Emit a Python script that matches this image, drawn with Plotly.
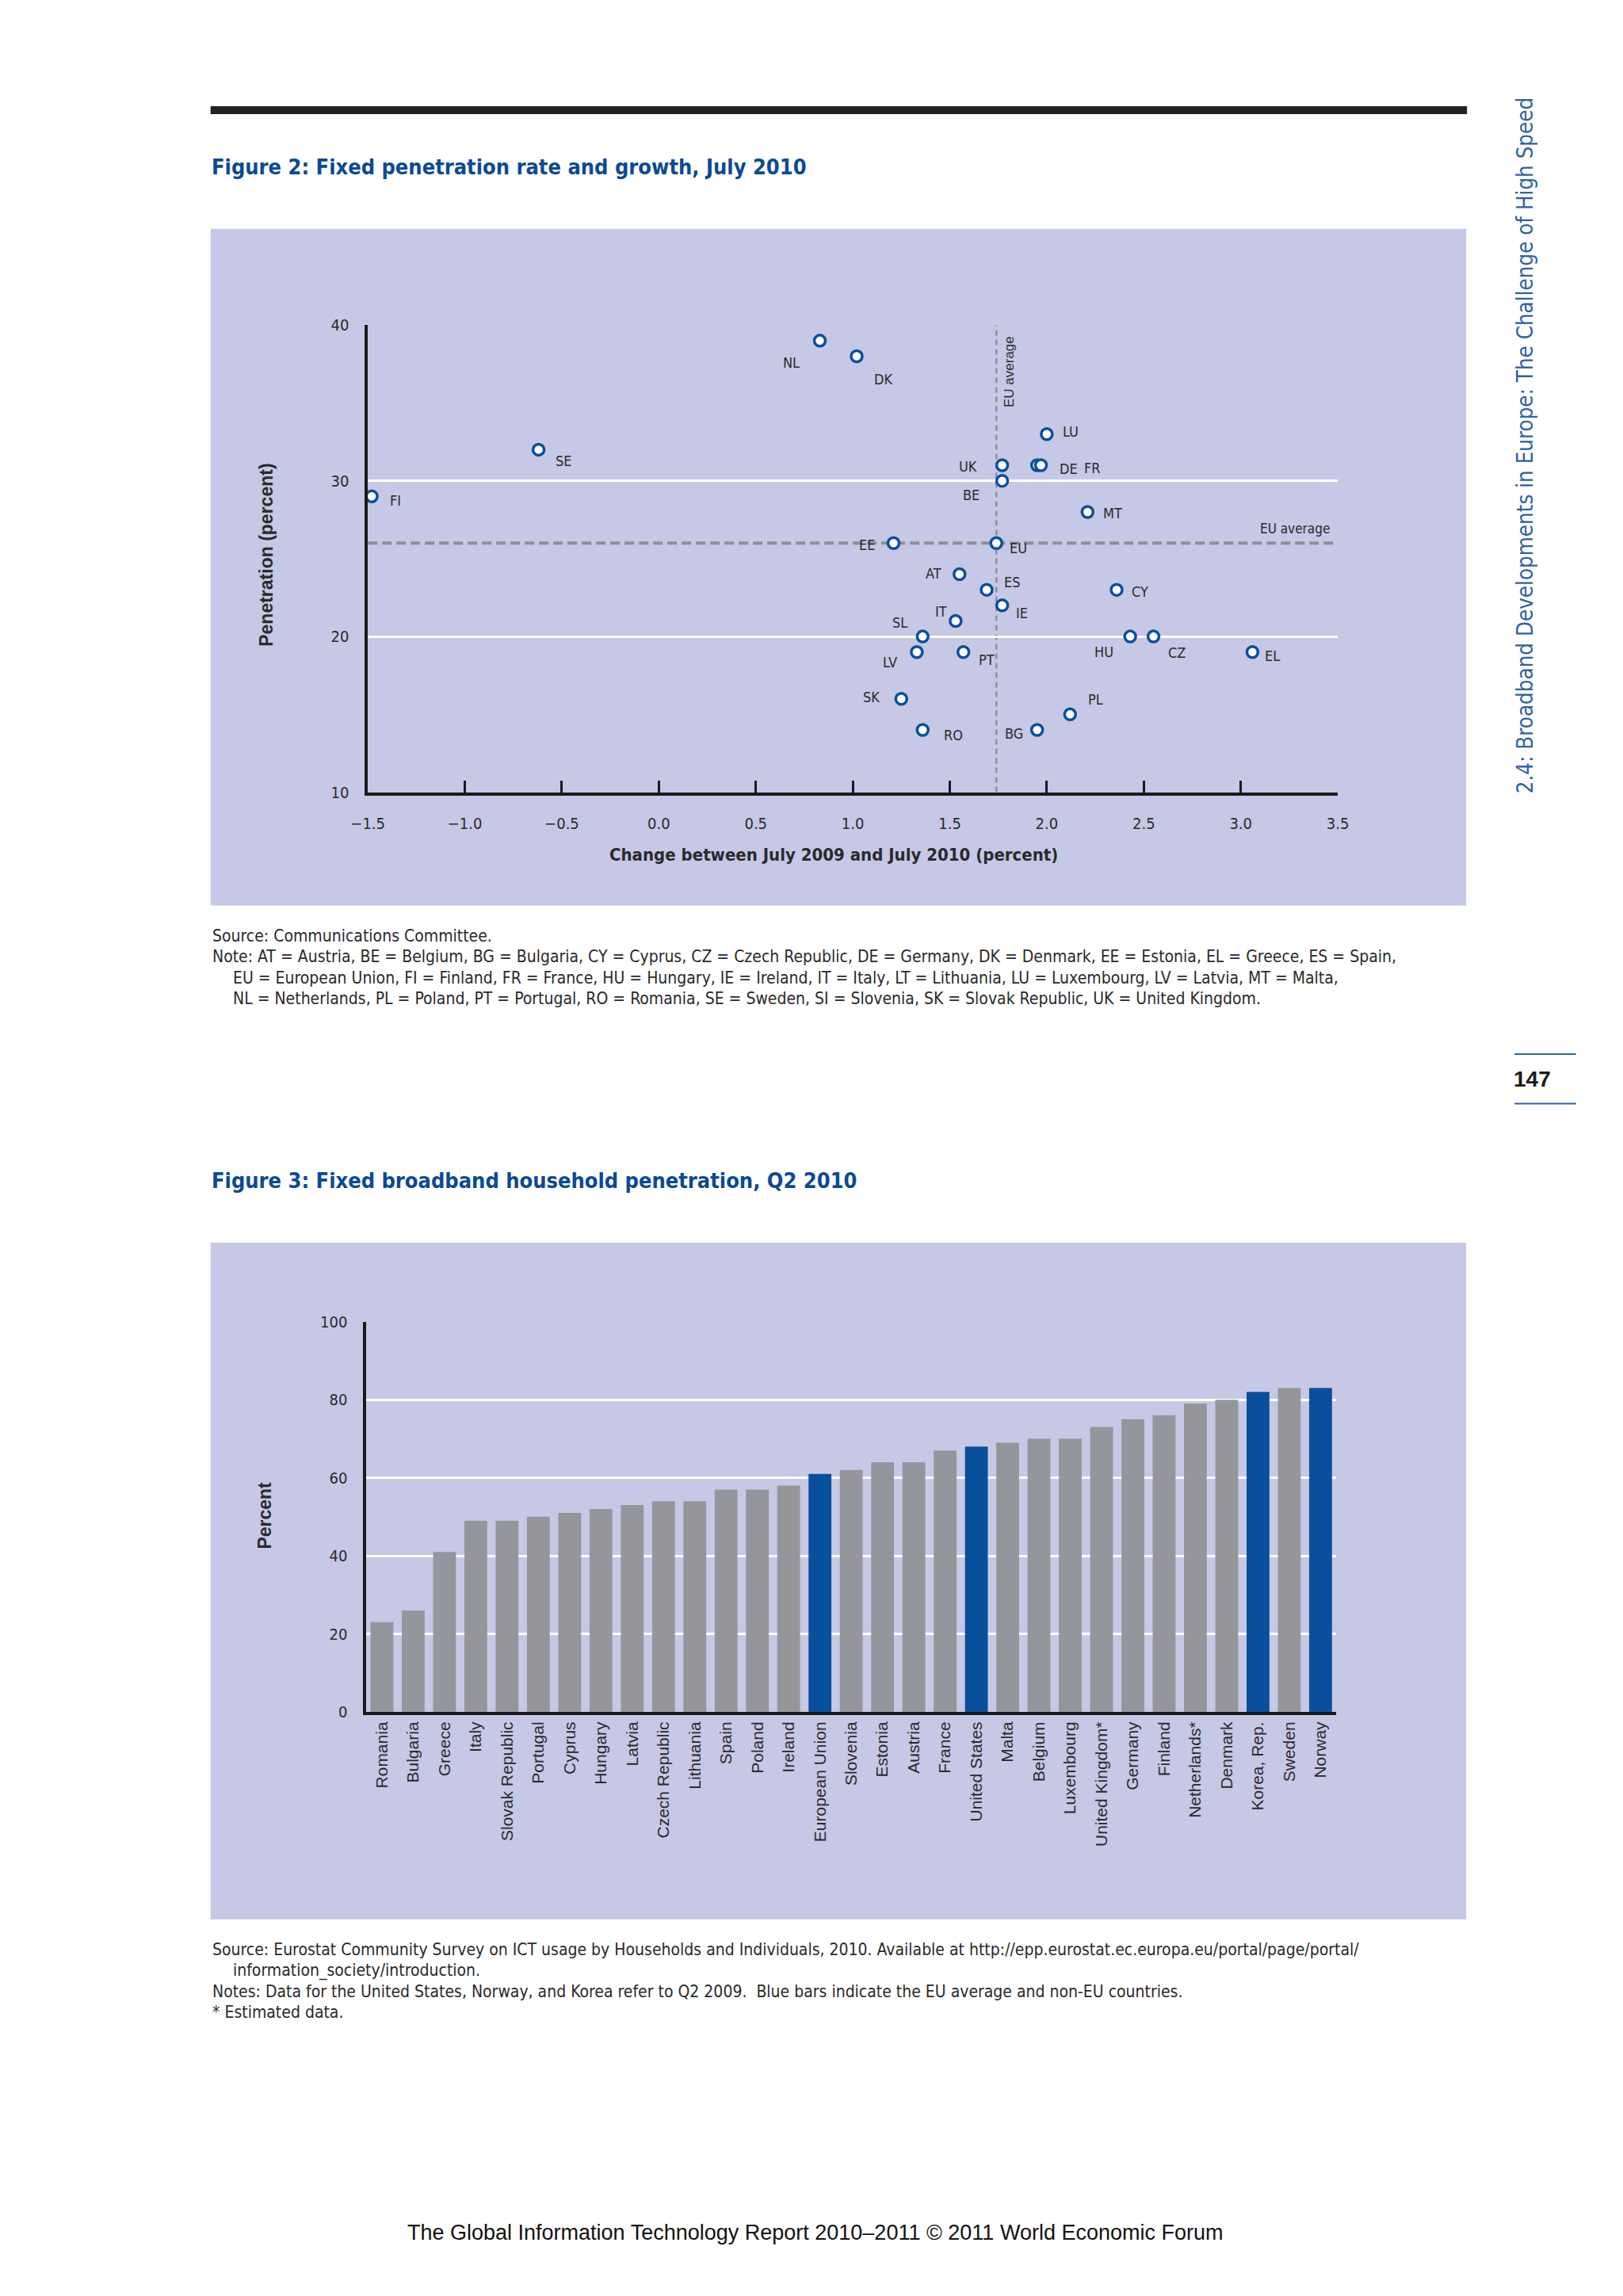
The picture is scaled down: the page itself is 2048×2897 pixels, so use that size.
import plotly.graph_objects as go

# ---------------- Figure 2 data ----------------
codes = ["FI", "SE", "NL", "DK", "LU", "UK", "DE", "FR", "BE", "MT", "EE", "EU",
         "AT", "ES", "CY", "IE", "IT", "SL", "HU", "CZ", "LV", "PT", "EL",
         "SK", "PL", "RO", "BG"]
growth = [-1.48, -0.62, 0.83, 1.02, 2.00, 1.77, 1.95, 1.97, 1.77, 2.21, 1.21, 1.74,
          1.55, 1.69, 2.36, 1.77, 1.53, 1.36, 2.43, 2.55, 1.33, 1.57, 3.06,
          1.25, 2.12, 1.36, 1.95]
penetration = [29, 32, 39, 38, 33, 31, 31, 31, 30, 28, 26, 26,
               24, 23, 23, 22, 21, 20, 20, 20, 19, 19, 19,
               16, 15, 14, 14]
eu_avg_growth = 1.74
eu_avg_pen = 26
x_ticks = [-1.5, -1.0, -0.5, 0.0, 0.5, 1.0, 1.5, 2.0, 2.5, 3.0, 3.5]
y_ticks = [10, 20, 30, 40]

# ---------------- Figure 3 data ----------------
countries = ["Romania", "Bulgaria", "Greece", "Italy", "Slovak Republic", "Portugal",
             "Cyprus", "Hungary", "Latvia", "Czech Republic", "Lithuania", "Spain",
             "Poland", "Ireland", "European Union", "Slovenia", "Estonia", "Austria",
             "France", "United States", "Malta", "Belgium", "Luxembourg",
             "United Kingdom*", "Germany", "Finland", "Netherlands*", "Denmark",
             "Korea, Rep.", "Sweden", "Norway"]
household_pen = [23, 26, 41, 49, 49, 50, 51, 52, 53, 54, 54, 57, 57, 58, 61, 62, 64, 64,
                 67, 68, 69, 70, 70, 73, 75, 76, 79, 80, 82, 83, 83]
highlighted = ["European Union", "United States", "Korea, Rep.", "Norway"]
bar_ticks = [0, 20, 40, 60, 80, 100]

# ---------------- styles ----------------
PAGE_W, PAGE_H = 2048, 2897
MARGIN = 8  # default body margin of the html page
W, H = PAGE_W - 2 * MARGIN, PAGE_H - 2 * MARGIN
BG = "#C6C8E5"
BLUE = "#0A4F9C"
TITLE_BLUE = "#0B4A94"
SIDE_BLUE = "#2F63A3"
GREY_BAR = "#95969B"
NARROW = "DejaVu Sans Condensed, Liberation Sans Narrow, Arial Narrow, sans-serif"
SANS = "Liberation Sans, Arial, sans-serif"
TXT = "#2a2a2a"

# label offsets in pixels (dx right, dy down) for point labels
label_offsets = {
    "FI": (30, 5), "SE": (32, 14), "NL": (-36, 28), "DK": (33, 29), "LU": (30, -3),
    "UK": (-43, 1), "DE": (40, 4), "FR": (65, 3), "BE": (-39, 18), "MT": (32, 2),
    "EE": (-34, 2), "EU": (28, 6), "AT": (-33, -1), "ES": (32, -10), "CY": (29, 2),
    "IE": (25, 10), "IT": (-18, -12), "SL": (-29, -18), "HU": (-33, 19), "CZ": (29, 20),
    "LV": (-34, 13), "PT": (29, 10), "EL": (25, 5), "SK": (-38, -2), "PL": (32, -19),
    "RO": (39, 7), "BG": (-29, 5),
}


def px(x):
    return (x - MARGIN) / W


def py(y):
    return 1 - (y - MARGIN) / H


fig = go.Figure()

# ---- scatter (Figure 2) ----
fig.add_trace(go.Scatter(
    x=growth, y=penetration, mode="markers", xaxis="x", yaxis="y",
    marker=dict(size=14, color="white", line=dict(color=BLUE, width=3.5)),
    cliponaxis=False, showlegend=False, hoverinfo="skip"))

# ---- bars (Figure 3) ----
bar_colors = [BLUE if c in highlighted else GREY_BAR for c in countries]
fig.add_trace(go.Bar(
    x=countries, y=household_pen, xaxis="x2", yaxis="y2",
    marker=dict(color=bar_colors, line=dict(width=0)),
    showlegend=False, hoverinfo="skip"))

shapes = []
# panel backgrounds
shapes.append(dict(type="rect", xref="paper", yref="paper", x0=px(248), x1=px(1861),
                   y0=py(1140), y1=py(279), fillcolor=BG, line=dict(width=0), layer="below"))
shapes.append(dict(type="rect", xref="paper", yref="paper", x0=px(248), x1=px(1861),
                   y0=py(2430), y1=py(1569), fillcolor=BG, line=dict(width=0), layer="below"))
# top rule
shapes.append(dict(type="rect", xref="paper", yref="paper", x0=px(248), x1=px(1862),
                   y0=py(133), y1=py(123), fillcolor="#222222", line=dict(width=0)))
# page number rules
for yy in (1329, 1392):
    shapes.append(dict(type="line", xref="paper", yref="paper", x0=px(1923), x1=px(2002),
                       y0=py(yy), y1=py(yy), line=dict(color=SIDE_BLUE, width=2)))
# EU average lines
shapes.append(dict(type="line", xref="x", yref="y", x0=x_ticks[0], x1=x_ticks[-1],
                   y0=eu_avg_pen, y1=eu_avg_pen, layer="below",
                   line=dict(color="#8E9099", width=4, dash="12px,6px")))
shapes.append(dict(type="line", xref="x", yref="y", x0=eu_avg_growth, x1=eu_avg_growth,
                   y0=y_ticks[0], y1=y_ticks[-1], layer="below",
                   line=dict(color="#8E9099", width=2.5, dash="7px,5px")))

annotations = []


def ann(text, x, y, size, family=NARROW, color=TXT, xanchor="left", yanchor="middle", angle=0):
    annotations.append(dict(text=text, x=px(x), y=py(y), xref="paper", yref="paper",
                            showarrow=False, xanchor=xanchor, yanchor=yanchor,
                            textangle=angle, font=dict(size=size, family=family, color=color)))


# point labels
for c, gx, pv in zip(codes, growth, penetration):
    dx, dy = label_offsets[c]
    annotations.append(dict(text=c, x=gx, y=pv, xref="x", yref="y", showarrow=False,
                            xshift=dx, yshift=-dy, xanchor="center", yanchor="middle",
                            font=dict(size=18, family=NARROW, color=TXT)))
# EU average texts
annotations.append(dict(text="EU average", x=x_ticks[-1], y=eu_avg_pen, xref="x", yref="y",
                        showarrow=False, xanchor="right", yanchor="bottom", xshift=-8, yshift=6,
                        font=dict(size=17, family=NARROW, color=TXT)))
annotations.append(dict(text="EU average", x=eu_avg_growth, y=y_ticks[-1], xref="x", yref="y",
                        showarrow=False, xanchor="left", yanchor="top", textangle=-90,
                        xshift=4, yshift=-12,
                        font=dict(size=17, family=SANS, color=TXT)))

# titles
ann("<b>Figure 2: Fixed penetration rate and growth, July 2010</b>", 247, 200, 27,
    color=TITLE_BLUE)
ann("<b>Figure 3: Fixed broadband household penetration, Q2 2010</b>", 247, 1490, 27,
    color=TITLE_BLUE)
# axis titles
ann("<b>Change between July 2009 and July 2010 (percent)</b>", 1048, 1075, 22,
    xanchor="center")
ann("<b>Penetration (percent)</b>", 320, 694, 23, family=SANS, xanchor="center", angle=-90)
ann("<b>Percent</b>", 318, 1916, 23, family=SANS, xanchor="center", angle=-90)

# notes figure 2
NS = 21
ann("Source: Communications Committee.", 248, 1179, NS)
ann("Note: AT = Austria, BE = Belgium, BG = Bulgaria, CY = Cyprus, CZ = Czech Republic, "
    "DE = Germany, DK = Denmark, EE = Estonia, EL = Greece, ES = Spain,", 248, 1205, NS)
ann("EU = European Union, FI = Finland, FR = France, HU = Hungary, IE = Ireland, IT = Italy, "
    "LT = Lithuania, LU = Luxembourg, LV = Latvia, MT = Malta,", 275, 1232, NS)
ann("NL = Netherlands, PL = Poland, PT = Portugal, RO = Romania, SE = Sweden, SI = Slovenia, "
    "SK = Slovak Republic, UK = United Kingdom.", 275, 1258, NS)
# notes figure 3
ann("Source: Eurostat Community Survey on ICT usage by Households and Individuals, 2010. "
    "Available at http://epp.eurostat.ec.europa.eu/portal/page/portal/", 248, 2468, NS)
ann("information_society/introduction.", 275, 2495, NS)
ann("Notes: Data for the United States, Norway, and Korea refer to Q2 2009.  Blue bars "
    "indicate the EU average and non-EU countries.", 248, 2522, NS)
ann("* Estimated data.", 248, 2548, NS)

# side text + page number
ann("2.4: Broadband Developments in Europe: The Challenge of High Speed", 1937, 554, 27.5,
    color=SIDE_BLUE, xanchor="center", angle=-90)
ann("<b>147</b>", 1946, 1361, 28, family=SANS, color="#1a1a1a", xanchor="center")
# footer
ann("The Global Information Technology Report 2010\u20132011 \u00a9 2011 World Economic Forum",
    1024, 2828, 27, family=SANS, color="#111111", xanchor="center")

tickfont = dict(size=20, family=NARROW, color=TXT)

fig.update_layout(
    width=W, height=H, margin=dict(l=0, r=0, t=0, b=0),
    paper_bgcolor="white", plot_bgcolor="rgba(0,0,0,0)",
    shapes=shapes, annotations=annotations, bargap=0.27,
    xaxis=dict(domain=[px(450), px(1696)], range=[x_ticks[0], x_ticks[-1]], anchor="y",
               tickvals=x_ticks, tickformat=".1f", ticks="inside", ticklen=15, tickwidth=3,
               tickcolor="#1a1a1a", showline=True, linewidth=4, linecolor="#1a1a1a",
               showgrid=False, zeroline=False, tickfont=tickfont, ticklabelstandoff=18),
    yaxis=dict(domain=[py(995.8), py(401.5)], range=[y_ticks[0], y_ticks[-1]], anchor="x",
               tickvals=y_ticks, showgrid=True, gridcolor="white", gridwidth=3,
               showline=True, linewidth=3.5, linecolor="#1a1a1a", zeroline=False,
               ticks="", tickfont=tickfont, ticklabelstandoff=16),
    xaxis2=dict(domain=[px(448), px(1694)], anchor="y2", type="category",
                showline=True, linewidth=4, linecolor="#1a1a1a", ticks="",
                tickangle=-90, tickfont=dict(size=21, family=SANS, color=TXT),
                showgrid=False, zeroline=False, ticklabelstandoff=0),
    yaxis2=dict(domain=[py(2166), py(1669.5)], anchor="x2", range=[0, 100],
                tickvals=bar_ticks, showgrid=True, gridcolor="white", gridwidth=3,
                showline=True, linewidth=3.5, linecolor="#1a1a1a", zeroline=False,
                ticks="", tickfont=tickfont, ticklabelstandoff=16),
)

fig.write_html("out.html")
